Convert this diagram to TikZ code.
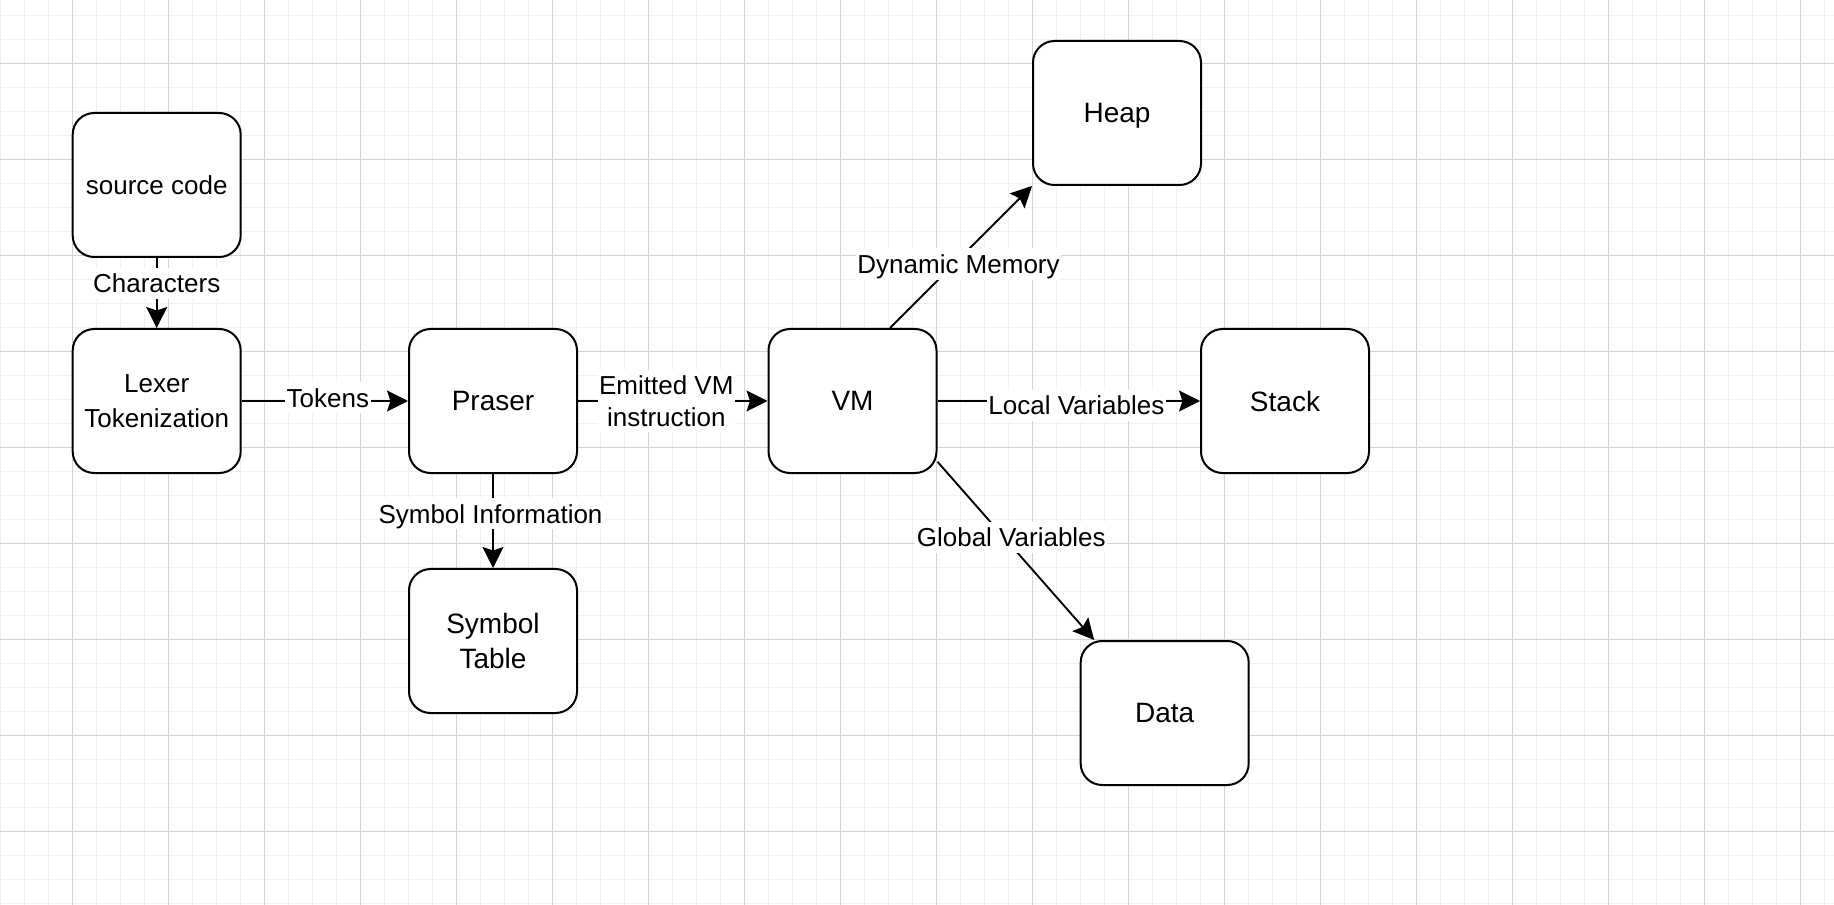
\documentclass[tikz,border=0pt]{standalone}
\usepackage{fontspec}
\setmainfont{Liberation Sans}
\usetikzlibrary{arrows.meta}
\definecolor{gmin}{RGB}{240,240,240}
\definecolor{gmaj}{RGB}{211,211,211}
\begin{document}
\begin{tikzpicture}[x=0.4pt, y=-0.4pt,
  box/.style={draw, line width=0.8pt, rounded corners=8.6pt, fill=white,
    minimum width=67.2pt, minimum height=57.6pt, inner sep=0pt, align=center,
    font=\fontsize{11.2}{14}\selectfont, text depth=0pt},
  boxs/.style={box, font=\fontsize{10.4}{14}\selectfont},
  edge/.style={line width=0.75pt, -{Stealth[length=8.4pt, width=8.4pt, inset=1.4pt]}},
  lbl/.style={fill=white, font=\fontsize{10.4}{12.7}\selectfont, text height=7.5pt,
    text depth=0pt, inner xsep=0.6pt, inner ysep=2.5pt},
  lbltwo/.style={fill=white, font=\fontsize{10.4}{12.7}\selectfont, align=center,
    inner xsep=0.6pt, inner ysep=2.3pt}
]
\useasboundingbox (0,0) rectangle (1834,905);
\fill[white] (0,0) rectangle (1834,905);
% grid
\foreach \k in {0,...,76} \draw[gmin, line width=0.4pt] ({0.7+24*\k},0) -- ({0.7+24*\k},905);
\foreach \k in {0,...,37} \draw[gmin, line width=0.4pt] (0,{15.3+24*\k}) -- (1834,{15.3+24*\k});
\foreach \k in {0,...,18} \draw[gmaj, line width=0.4pt] ({72.7+96*\k},0) -- ({72.7+96*\k},905);
\foreach \k in {0,...,8} \draw[gmaj, line width=0.4pt] (0,{63.3+96*\k}) -- (1834,{63.3+96*\k});

% nodes
\node[boxs] (src) at (156.7,185) {source code};
\node[boxs] (lexer) at (156.7,401) {Lexer\\Tokenization};
\node[box] (parser) at (493,401) {Praser};
\node[box] (symtab) at (493,641) {Symbol\\Table};
\node[box] (vm) at (852.5,401) {VM};
\node[box] (heap) at (1117,113) {Heap};
\node[box] (stack) at (1285,401) {Stack};
\node[box] (data) at (1164.7,713) {Data};

% edges
\draw[edge] (src) -- node[lbl, pos=0.361] {Characters} (lexer);
\draw[edge] (lexer) -- node[lbl, pos=0.518, yshift=1.3pt] {Tokens} (parser);
\draw[edge] (parser) -- node[lbltwo, pos=0.466] {Emitted VM\\instruction} (vm);
\draw[edge] (vm) -- node[lbl, pos=0.529, yshift=-1.8pt] {Local Variables} (stack);
\draw[edge] (parser) -- node[lbl, pos=0.422, xshift=-1pt] {Symbol Information} (symtab);
\draw[edge] ([xshift=15pt]vm.north) -- node[lbl, pos=0.451, xshift=1.8pt] {Dynamic Memory} (heap.south west);
\draw[edge] ([yshift=-24.3pt]vm.east) -- node[lbl, pos=0.423, xshift=3pt] {Global Variables} ([xshift=5.8pt]data.north west);
\end{tikzpicture}
\end{document}
